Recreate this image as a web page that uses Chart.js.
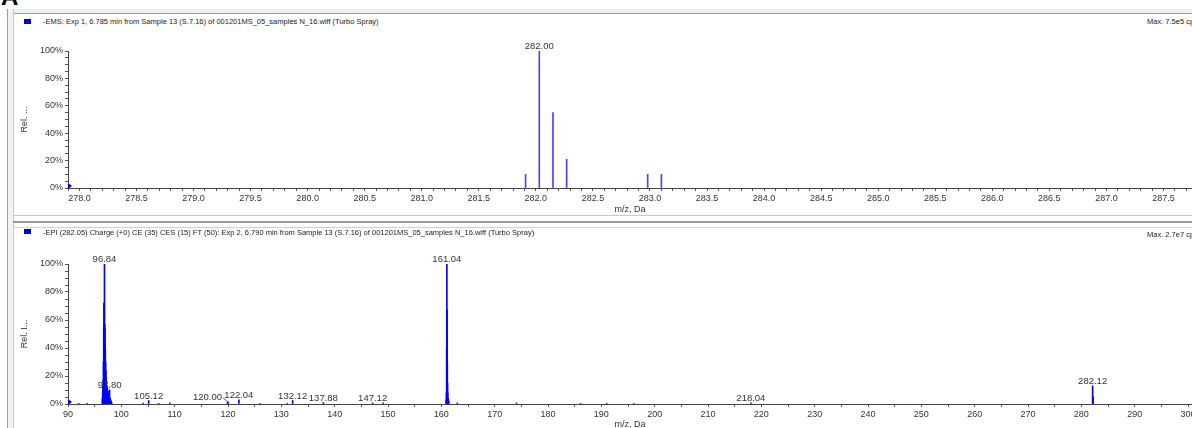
<!DOCTYPE html>
<html lang="en">

<head>
    <meta charset="UTF-8">
    <title>EMS / EPI spectra</title>
    <script src="https://cdn.jsdelivr.net/npm/chart.js@4.4.1/dist/chart.umd.min.js"></script>
    <style>
        body { margin: 0; width: 1192px; height: 428px; overflow: hidden; background: #fff; position: relative;
               font-family: "Liberation Sans", Arial, sans-serif; }
        .letter { position: absolute; left: 1px; top: -17px; font: bold 24px "Liberation Sans", Arial, sans-serif; color: #000; }
        .band_top { position: absolute; left: 8px; top: 9px; width: 1184px; height: 4px; background: #eef1f4; border-bottom: 1px solid #9a9a9a; }
        .band_left { position: absolute; left: 7px; top: 9px; width: 5px; height: 419px; background: #f2f2f2; border-left: 1px solid #a0a0a0; border-right: 1px solid #c8c8c8; }
        .sep1 { position: absolute; left: 13px; top: 215px; width: 1179px; height: 1px; background: #c8c8c8; }
        .sep2 { position: absolute; left: 13px; top: 221px; width: 1179px; height: 2px; background: #9a9a9a; }
        .sep3 { position: absolute; left: 13px; top: 227px; width: 1179px; height: 1px; background: #d0d0d0; }
        .sq { position: absolute; left: 24px; width: 7px; height: 5px; background: #0000cc; }
        .hdr { position: absolute; left: 43px; font-size: 7.5px; line-height: 8px; color: #222; white-space: nowrap; }
        .max { position: absolute; left: 1147px; font-size: 7.5px; line-height: 8px; color: #222; white-space: nowrap; }
        canvas { position: absolute; }
    </style>
</head>

<body>
    <div class="letter">A</div>
    <div class="band_top"></div>
    <div class="band_left"></div>

    <div class="sq" style="top: 19px;"></div>
    <div class="hdr" style="top: 18px;">-EMS: Exp 1, 6.785 min from Sample 13 (S.7.16) of 001201MS_05_samples N_16.wiff (Turbo Spray)</div>
    <div class="max" style="top: 18px;">Max. 7.5e5 cps</div>
    <canvas id="canvas_ems" style="left: 14px; top: 28px;" width="1178" height="188"></canvas>

    <div class="sep1"></div>
    <div class="sep2"></div>
    <div class="sep3"></div>

    <div class="sq" style="top: 229px;"></div>
    <div class="hdr" style="top: 229px;">-EPI (282.05) Charge (+0) CE (35) CES (15) FT (50): Exp 2, 6.790 min from Sample 13 (S.7.16) of 001201MS_05_samples N_16.wiff (Turbo Spray)</div>
    <div class="max" style="top: 231px;">Max. 2.7e7 cps</div>
    <canvas id="canvas_epi" style="left: 14px; top: 240px;" width="1178" height="191"></canvas>
</body>

</html>

<script>
    // EMS spectrum (top)
    var ems_mz = [281.91, 282.03, 282.15, 282.27, 282.98, 283.10]
    var ems_rel = [10, 100, 55, 21, 10, 10]
    var ems_label_mz = [282.03]
    var ems_label_txt = ['282.00']

    // EPI product-ion spectrum (bottom)
    var epi_mz = [90.1, 92.0, 93.6,
        96.45, 96.50, 96.55, 96.60, 96.65, 96.70, 96.75, 96.80, 96.84, 96.88, 96.92, 96.96, 97.00,
        97.05, 97.10, 97.15, 97.20, 97.30, 97.40, 97.50, 97.60, 97.70, 97.80, 97.90, 98.00, 98.10, 98.20,
        104.1, 105.12, 107.0, 109.1, 119.9, 120.00, 122.04, 126.0, 131.1, 132.12, 137.88, 147.12, 149.1,
        160.90, 160.96, 161.00, 161.04, 161.08, 161.12, 161.16, 161.20, 161.30, 161.40,
        163.0, 174.1, 186.1, 191.0, 196.1, 218.04, 282.12, 282.22]
    var epi_rel = [1, 0.5, 0.5,
        4, 8, 12, 17, 30, 55, 72, 70, 100, 57, 54, 42, 38,
        30, 24, 19, 16, 13, 11, 9, 7, 6, 10, 4, 3, 2, 1,
        0.6, 2.5, 0.5, 0.8, 0.8, 1.5, 3, 0.4, 0.5, 2.5, 1, 0.8, 0.8,
        3, 8, 40, 100, 67, 30, 15, 8, 4, 2,
        0.8, 0.8, 0.5, 0.5, 0.5, 0.8, 13, 5]
    var epi_label_mz = [96.84, 97.80, 105.12, 120.00, 122.04, 132.12, 137.88, 147.12, 161.04, 218.04, 282.12]
    var epi_label_txt = ['96.84', '97.80', '105.12', '120.00', '122.04', '132.12', '137.88', '147.12', '161.04', '218.04', '282.12']

    var fonte = '"Liberation Sans", Arial, sans-serif'

    // peak labels + little blue marker at the origin
    function plugin_rotulos(label_mz, label_txt, mz, rel, deslocamento) {
        return {
            id: 'rotulos',
            afterDraw: function (chart) {
                var ctx = chart.ctx
                var x = chart.scales.x
                var y = chart.scales.y
                var area = chart.chartArea
                ctx.save()
                ctx.font = '9.5px ' + fonte
                ctx.fillStyle = '#333'
                ctx.strokeStyle = '#333'
                ctx.textAlign = 'center'
                ctx.textBaseline = 'alphabetic'
                for (var i = 0; i < label_mz.length; i++) {
                    var k = mz.indexOf(label_mz[i])
                    var px = x.getPixelForValue(label_mz[i])
                    var py = y.getPixelForValue(rel[k])
                    var dx = deslocamento[label_txt[i]] || 0
                    if (dx != 0) {
                        ctx.textAlign = 'right'
                        ctx.fillText(label_txt[i], px + dx + 15, py - 2)
                        ctx.beginPath()
                        ctx.lineWidth = 0.8
                        ctx.moveTo(px + dx + 16, py - 4)
                        ctx.lineTo(px, py)
                        ctx.stroke()
                        ctx.textAlign = 'center'
                    } else {
                        ctx.fillText(label_txt[i], px, py - 2)
                    }
                }
                ctx.fillStyle = '#0000cc'
                ctx.beginPath()
                ctx.moveTo(area.left, area.bottom - 5)
                ctx.lineTo(area.left + 4, area.bottom - 2)
                ctx.lineTo(area.left, area.bottom + 1)
                ctx.closePath()
                ctx.fill()
                ctx.restore()
            }
        }
    }

    function grafico(id, mz, rel, cor, xmin, xmax, passo, principal, decimais, titulo_y, topo, altura_x, rotulos) {
        var data = {
            datasets: [{
                data: mz.map(function (m, i) { return { x: m, y: rel[i] } }),
                backgroundColor: cor,
                barThickness: 1,
                borderWidth: 0
            }]
        }
        var config = {
            type: 'bar',
            data: data,
            plugins: [rotulos],
            options: {
                responsive: false,
                animation: false,
                devicePixelRatio: 1,
                layout: { padding: { top: topo, right: 0, left: 0, bottom: 0 } },
                plugins: { legend: { display: false }, tooltip: { enabled: false } },
                scales: {
                    x: {
                        type: 'linear',
                        min: xmin,
                        max: xmax,
                        offset: false,
                        grid: { offset: false, drawOnChartArea: false, tickLength: 3, color: '#555' },
                        border: { color: '#444', width: 1 },
                        ticks: {
                            stepSize: passo,
                            includeBounds: false,
                            autoSkip: false,
                            maxRotation: 0,
                            padding: 2,
                            color: '#333',
                            font: { family: fonte, size: 9 },
                            callback: function (v) {
                                var r = v / principal
                                return Math.abs(r - Math.round(r)) < 1e-6 ? v.toFixed(decimais) : ''
                            }
                        },
                        title: { display: true, text: 'm/z, Da', color: '#333', font: { family: fonte, size: 9 }, padding: { top: 0, bottom: 1 } },
                        afterFit: function (s) { s.height = altura_x; s.paddingLeft = 0; s.paddingRight = 0 }
                    },
                    y: {
                        min: 0,
                        max: 100,
                        grid: { drawOnChartArea: false, tickLength: 3, color: '#555' },
                        border: { color: '#444', width: 1 },
                        ticks: {
                            stepSize: 5,
                            autoSkip: false,
                            padding: 2,
                            color: '#333',
                            font: { family: fonte, size: 9 },
                            callback: function (v) { return v % 20 == 0 ? v + '%' : '' }
                        },
                        title: { display: true, text: titulo_y, color: '#333', font: { family: fonte, size: 9 }, padding: { top: 5, bottom: 0 } },
                        afterFit: function (s) { s.width = 54; s.paddingTop = 0; s.paddingBottom = 0 }
                    }
                }
            }
        }
        return new Chart(document.getElementById(id), config)
    }

    grafico('canvas_ems', ems_mz, ems_rel, '#4646ff', 277.9, 287.75, 0.1, 0.5, 1, 'Rel. ...', 23, 28,
        plugin_rotulos(ems_label_mz, ems_label_txt, ems_mz, ems_rel, {}))

    grafico('canvas_epi', epi_mz, epi_rel, '#0000ff', 90, 300.75, 5, 10, 0, 'Rel. I...', 24, 27,
        plugin_rotulos(epi_label_mz, epi_label_txt, epi_mz, epi_rel, { '120.00': -21 }))
</script>
